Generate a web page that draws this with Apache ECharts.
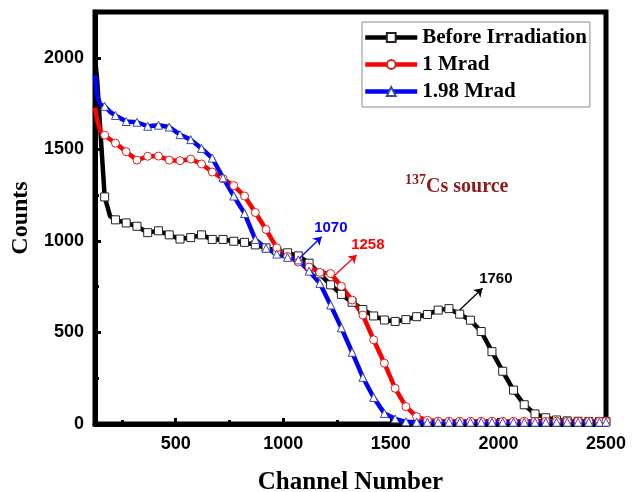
<!DOCTYPE html>
<html>
<head>
<meta charset="utf-8">
<script src="https://cdn.jsdelivr.net/npm/echarts@6/dist/echarts.min.js"></script>
<style>
  html, body { margin: 0; padding: 0; background: #fff; }
  #main { width: 640px; height: 492px; }
</style>
</head>
<body>
<div id="main"></div>
<script>
// channel numbers shared by the three spectra
const channels = [125, 135, 150, 170, 195, 220, 270, 320, 370, 420, 470, 520, 570, 620, 670, 720, 770, 820, 870, 920,
  970, 1020, 1070, 1120, 1170, 1220, 1270, 1320, 1370, 1420, 1470, 1520, 1570, 1620, 1670, 1720, 1770, 1820, 1870,
  1920, 1970, 2020, 2070, 2120, 2170, 2220, 2270, 2320, 2370, 2420, 2470, 2500]
// points drawn without an open marker (steep start)
const noMarker = [125, 135, 150, 195]

const beforeCounts = [2000, 1880, 1600, 1240, 1135, 1115, 1098, 1080, 1045, 1055, 1033, 1010, 1018, 1033, 1008, 1008,
  998, 992, 978, 962, 945, 935, 918, 878, 820, 760, 708, 665, 625, 590, 568, 560, 570, 586, 598, 622, 630, 600, 567,
  505, 395, 288, 185, 105, 55, 34, 22, 17, 15, 14, 13, 13]
const mrad1Counts = [1728, 1660, 1600, 1577, 1555, 1534, 1487, 1441, 1462, 1463, 1441, 1438, 1447, 1420, 1376, 1340,
  1302, 1245, 1155, 1062, 962, 915, 884, 857, 828, 822, 752, 677, 595, 460, 332, 195, 95, 40, 20, 16, 15, 15, 15,
  15, 15, 15, 15, 15, 15, 15, 15, 15, 15, 15, 15, 15]
const mrad198Counts = [1905, 1790, 1745, 1735, 1705, 1685, 1652, 1648, 1626, 1632, 1622, 1580, 1553, 1505, 1452, 1345,
  1245, 1150, 1008, 960, 928, 910, 896, 835, 768, 650, 525, 392, 255, 145, 58, 28, 12, 10, 10, 10, 10, 10, 10,
  10, 10, 10, 10, 10, 10, 10, 10, 10, 10, 10, 10, 10]

const xTicks = [500, 1000, 1500, 2000, 2500]
const xMinorTicks = [250, 750, 1250, 1750, 2250]
const yTicks = [0, 500, 1000, 1500, 2000]
const yMinorTicks = [250, 750, 1250, 1750]

// arrows: [from, to] and label position, in data units
const arrow1070 = [[1077, 907], [1178, 1023]]
const label1070 = [1221, 1071]
const arrow1258 = [[1240, 814], [1341, 923]]
const label1258 = [1393, 978]
const arrow1760 = [[1820, 623], [1926, 741]]
const label1760 = [1988, 792]

const sans = 'Liberation Sans'
const serif = 'Liberation Serif'

function pairs(values) {
  return channels.map((c, i) => [c, values[i]])
}

function markerSize(val) {
  return noMarker.indexOf(val[0]) >= 0 ? 0 : 8
}

function arrowMarks(arrow, labelPos, text, color) {
  return {
    markLine: {
      silent: true,
      symbol: ['none', 'arrow'],
      symbolSize: 8,
      lineStyle: { color: color, width: 1.3, type: 'solid' },
      label: { show: false },
      data: [[{ coord: arrow[0] }, { coord: arrow[1] }]],
    },
    markPoint: {
      silent: true,
      symbol: 'rect',
      symbolSize: 1,
      itemStyle: { color: 'rgba(0,0,0,0)' },
      label: {
        show: true, position: 'inside', formatter: text,
        color: color, fontFamily: sans, fontWeight: 'bold', fontSize: 15,
      },
      data: [{ coord: labelPos }],
    },
  }
}

function makeSeries(name, values, symbol, lineColor, borderColor, arrow, labelPos, text) {
  return Object.assign({
    name: name,
    type: 'line',
    data: pairs(values),
    symbol: symbol,
    symbolSize: markerSize,
    showAllSymbol: true,
    lineStyle: { color: lineColor, width: 4.5 },
    itemStyle: { color: '#fff', borderColor: borderColor, borderWidth: 1 },
    emphasis: { disabled: true },
  }, arrowMarks(arrow, labelPos, text, lineColor))
}

const plainLabel = (v) => String(v)

var myChart = echarts.init(document.getElementById('main'))
var option = {
  animation: false,
  title: {
    text: '{sup|137}{main|Cs source}',
    left: 400,
    top: 168,
    textStyle: {
      rich: {
        sup: { fontFamily: serif, fontWeight: 'bold', fontSize: 14, color: '#8b1a1a', verticalAlign: 'top', lineHeight: 24 },
        main: { fontFamily: serif, fontWeight: 'bold', fontSize: 20, color: '#8b1a1a', verticalAlign: 'bottom', lineHeight: 24, padding: [8, 0, 0, 0] },
      },
    },
  },
  legend: {
    orient: 'vertical',
    left: 362,
    top: 22,
    padding: [5, 3, 5, 1],
    borderColor: '#8c8c8c',
    borderWidth: 1,
    itemWidth: 52,
    itemHeight: 11,
    itemGap: 6,
    lineStyle: { width: 4.5 },
    textStyle: { fontFamily: serif, fontWeight: 'bold', fontSize: 21, color: '#000', lineHeight: 20 },
    data: ['Before Irradiation', '1 Mrad', '1.98 Mrad'],
  },
  grid: {
    left: 95, right: 34, top: 12, bottom: 68,
    outerBoundsMode: 'none',
    show: true, borderColor: '#000', borderWidth: 5,
  },
  xAxis: [
    {
      type: 'value', min: 125, max: 2500,
      name: 'Channel Number', nameLocation: 'middle', nameGap: 46,
      nameTextStyle: { fontFamily: serif, fontWeight: 'bold', fontSize: 25, color: '#000' },
      axisLine: { show: true, lineStyle: { color: '#000', width: 5 } },
      axisTick: { show: true, inside: true, length: 6, customValues: xTicks, lineStyle: { color: '#000', width: 3 } },
      axisLabel: { customValues: xTicks, formatter: plainLabel, margin: 11, fontFamily: sans, fontWeight: 'bold', fontSize: 18, color: '#000' },
      splitLine: { show: false },
    },
    {
      type: 'value', min: 125, max: 2500, position: 'bottom',
      axisLine: { show: false },
      axisTick: { show: true, inside: true, length: 4, customValues: xMinorTicks, lineStyle: { color: '#000', width: 3 } },
      axisLabel: { show: false },
      splitLine: { show: false },
    },
  ],
  yAxis: [
    {
      type: 'value', min: 0, max: 2250,
      name: 'Counts', nameLocation: 'middle', nameGap: 47,
      nameTextStyle: { fontFamily: serif, fontWeight: 'bold', fontSize: 24, color: '#000' },
      axisLine: { show: true, lineStyle: { color: '#000', width: 5 } },
      axisTick: { show: true, inside: true, length: 6, customValues: yTicks, lineStyle: { color: '#000', width: 3 } },
      axisLabel: { customValues: yTicks, formatter: plainLabel, margin: 11, fontFamily: sans, fontWeight: 'bold', fontSize: 18, color: '#000' },
      splitLine: { show: false },
    },
    {
      type: 'value', min: 0, max: 2250, position: 'left',
      axisLine: { show: false },
      axisTick: { show: true, inside: true, length: 4, customValues: yMinorTicks, lineStyle: { color: '#000', width: 3 } },
      axisLabel: { show: false },
      splitLine: { show: false },
    },
  ],
  series: [
    makeSeries('Before Irradiation', beforeCounts, 'rect', '#000', '#222', arrow1760, label1760, '1760'),
    makeSeries('1 Mrad', mrad1Counts, 'circle', '#ff0000', '#d42020', arrow1258, label1258, '1258'),
    makeSeries('1.98 Mrad', mrad198Counts, 'triangle', '#0000ff', '#3a4aa8', arrow1070, label1070, '1070'),
  ],
}
myChart.setOption(option)
</script>
</body>
</html>
